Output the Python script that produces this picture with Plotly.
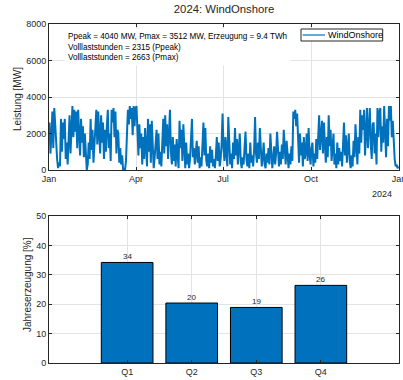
import pandas as pd
import plotly.graph_objects as go
from plotly.subplots import make_subplots

# ---- data ----
year = 2024
series_name = "WindOnshore"
# daily-resolution reading of the onshore wind power curve [MW]
jan = [2600, 900, 1800, 3200, 1200, 3400, 2500, 1400, 600, 100, 400, 200, 2800, 1000, 2600, 1700,
       2800, 600, 1500, 300, 2200, 3000, 900, 2500, 3500, 1800, 3300, 2100, 3200, 1200, 3300]
feb = [2000, 800, 2800, 1500, 2400, 700, 2000, 500, 0, 300, 1500, 600, 2800, 1100, 2200, 400,
       1600, 2500, 3300, 1400, 3200, 2000, 900, 3000, 1500, 2600, 600, 2200, 1000]
mar = [2400, 3300, 1200, 2000, 500, 3300, 2600, 3400, 1800, 3200, 900, 2200, 2000, 400, 1200, 300,
       800, 0, 100, 0, 500, 1500, 3300, 2500, 3500, 2800, 3400, 1900, 3500, 2400, 3400]
apr = [3500, 1700, 800, 2500, 1200, 2000, 300, 1800, 600, 2300, 900, 200, 2800, 1000, 2500, 400,
       2700, 1200, 100, 700, 1500, 2200, 600, 2000, 300, 1000, 200, 1700, 2800, 900]
may = [3000, 1300, 2500, 600, 1800, 3300, 1000, 300, 1800, 500, 1400, 200, 1700, 400, 100, 2700,
       1200, 2200, 500, 2500, 800, 100, 1500, 300, 900, 100, 600, 1400, 2800, 700, 1200]
jun = [300, 900, 1600, 400, 1300, 100, 700, 200, 1200, 2600, 800, 2300, 500, 200, 900, 100,
       1300, 400, 1100, 200, 600, 100, 800, 1800, 500, 1500, 200, 600, 1400, 3100]
jul = [1200, 500, 1800, 700, 200, 2900, 1000, 300, 900, 100, 1500, 600, 2300, 800, 1700, 300,
       1200, 2000, 500, 100, 700, 300, 1200, 2100, 600, 200, 900, 100, 1500, 400, 800]
aug = [200, 1100, 2900, 900, 400, 1500, 600, 2300, 800, 200, 700, 1500, 300, 100, 900, 400,
       1200, 300, 2000, 700, 100, 600, 1300, 300, 900, 2100, 600, 200, 1000, 300, 1400]
sep = [600, 2200, 800, 300, 1600, 500, 100, 900, 300, 1300, 500, 3200, 2800, 3300, 2400, 3100,
       1200, 400, 2000, 800, 1500, 200, 1800, 600, 1000, 2000, 500, 2300, 900, 300]
oct_ = [1200, 1500, 200, 900, 400, 1700, 600, 1800, 3000, 1100, 2000, 2700, 900, 2600, 1400, 400,
        1800, 700, 3000, 1300, 2200, 500, 1200, 2000, 300, 900, 100, 1500, 300, 1200, 500]
nov = [1000, 200, 1400, 2600, 800, 1900, 400, 1300, 2000, 500, 100, 800, 200, 1600, 700, 2500,
       1000, 300, 1800, 900, 3300, 1500, 3000, 2200, 3300, 800, 2000, 3400, 1200, 2800]
dec = [3400, 1400, 600, 2500, 2600, 900, 2000, 300, 3400, 1800, 3200, 3400, 1000, 2400, 1500, 3500,
       2200, 700, 2800, 1300, 3500, 2700, 3500, 1800, 2700, 1400, 600, 200, 300, 100, 200]
power_mw = jan + feb + mar + apr + may + jun + jul + aug + sep + oct_ + nov + dec

quarters = ["Q1", "Q2", "Q3", "Q4"]
share_pct = [34.2, 20.4, 18.9, 26.4]
share_labels = ["34", "20", "19", "26"]

info_lines = ["Ppeak = 4040 MW, Pmax = 3512 MW, Erzeugung = 9.4 TWh",
              "Volllaststunden = 2315 (Ppeak)",
              "Volllaststunden = 2663 (Pmax)"]
month_ticks = ["2024-01-01", "2024-04-01", "2024-07-01", "2024-10-01", "2025-01-01"]
month_labels = ["Jan", "Apr", "Jul", "Oct", "Jan"]

# ---- figure ----
FONT = "Liberation Sans, Arial, sans-serif"
AX = "#262626"
GRID = "#e3e3e3"
BLUE = "#0072BD"
W, H = 403, 380
ML, MR, MT, MB = 49, 4, 24, 17


def px(xp):
    return (xp - ML) / (W - ML - MR)


def py(yp):
    return (H - MB - yp) / (H - MT - MB)


dates = pd.date_range(f"{year}-01-01 12:00", periods=len(power_mw), freq="D")
qpos = list(range(1, len(quarters) + 1))

fig = make_subplots(rows=2, cols=1)
fig.add_trace(go.Scatter(x=dates, y=power_mw, mode="lines", name=series_name, showlegend=False,
                         line=dict(color=BLUE, width=2)), row=1, col=1)
fig.add_trace(go.Bar(x=qpos, y=share_pct, width=0.8, showlegend=False,
                     marker=dict(color=BLUE, line=dict(color="black", width=1))), row=2, col=1)
for xq, val, lab in zip(qpos, share_pct, share_labels):
    fig.add_annotation(xref="x2", yref="y2", x=xq, y=val, xanchor="center", yanchor="bottom",
                       text=lab, showarrow=False, borderpad=0, yshift=0,
                       font=dict(size=8, color=AX))

axis_common = dict(showline=True, linecolor=AX, linewidth=0.8, mirror="ticks",
                   ticks="inside", ticklen=3, tickcolor=AX, automargin=False,
                   showgrid=True, gridcolor=GRID, gridwidth=1, zeroline=False,
                   tickfont=dict(size=9, color=AX))

fig.update_layout(
    width=W, height=H,
    margin=dict(l=ML, r=MR, t=MT, b=MB, autoexpand=False),
    paper_bgcolor="white", plot_bgcolor="white",
    font=dict(family=FONT, color=AX),
    title=dict(text=f"{year}: {series_name}", x=0.556, xanchor="center", y=0.976,
               yanchor="middle", font=dict(size=11.3, color=AX)),
    showlegend=False,
    xaxis=dict(domain=[0, 1], anchor="y", type="date",
               range=["2024-01-01", "2025-01-01 00:30"],
               tickvals=month_ticks, ticktext=month_labels,
               ticklabeloverflow="allow", **axis_common),
    yaxis=dict(domain=[py(170), 1], anchor="x", range=[0, 8000],
               tickvals=[0, 2000, 4000, 6000, 8000], **axis_common),
    xaxis2=dict(domain=[0, 1], anchor="y2", range=[-0.21, 5.21],
                tickvals=qpos, ticktext=quarters, **axis_common),
    yaxis2=dict(domain=[0, py(216)], anchor="x2", range=[0, 50],
                tickvals=[0, 10, 20, 30, 40, 50], **axis_common),
)

# y-axis titles
fig.add_annotation(xref="paper", yref="paper", x=px(17), y=py(99), xanchor="center",
                   yanchor="middle", textangle=-90, text="Leistung [MW]", showarrow=False,
                   font=dict(size=10, color=AX))
fig.add_annotation(xref="paper", yref="paper", x=px(27), y=py(285), xanchor="center",
                   yanchor="middle", textangle=-90, text="Jahreserzeugung [%]", showarrow=False,
                   font=dict(size=10, color=AX))
# info text box
fig.add_annotation(xref="paper", yref="paper", x=px(64), y=py(28), xanchor="left", yanchor="top",
                   text="<br>".join(info_lines), align="left", showarrow=False,
                   bgcolor="white", borderpad=3, font=dict(size=8.15, color="black"))
# legend (box, line sample, label)
fig.add_shape(type="rect", xref="paper", yref="paper", x0=px(301), x1=px(382.7),
              y0=py(41), y1=py(29), line=dict(color=AX, width=1), fillcolor="white", layer="above")
fig.add_shape(type="line", xref="paper", yref="paper", x0=px(302.7), x1=px(325),
              y0=py(35), y1=py(35), line=dict(color=BLUE, width=1.2), layer="above")
fig.add_annotation(xref="paper", yref="paper", x=px(326.5), y=py(35), xanchor="left",
                   yanchor="middle", text=series_name, showarrow=False,
                   font=dict(size=9, color="black"), borderpad=0)
# year label under the time axis
fig.add_annotation(xref="paper", yref="paper", x=0.985, y=py(170), xanchor="right", yanchor="top",
                   yshift=-17, text=str(year), showarrow=False, font=dict(size=9, color=AX))

fig.write_html("out.html")
